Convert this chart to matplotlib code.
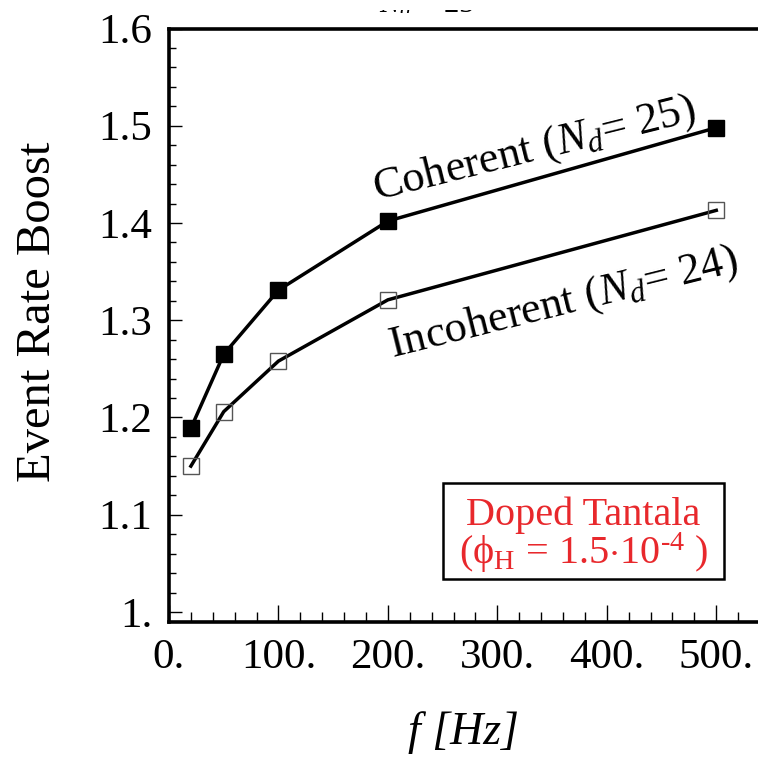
import matplotlib

matplotlib.use("Agg")
import matplotlib.pyplot as plt
from matplotlib.patches import Rectangle
from matplotlib.ticker import FixedFormatter, FixedLocator, MultipleLocator
from matplotlib.transforms import Bbox, TransformedBbox

freq_hz = [20, 50, 100, 200, 500]
boost_coherent = [1.189, 1.265, 1.331, 1.402, 1.498]
boost_incoherent = [1.150, 1.206, 1.258, 1.321, 1.413]

xtick_values = [0, 100, 200, 300, 400, 500]
xtick_labels = ["0.", "100.", "200.", "300.", "400.", "500."]
ytick_values = [1.0, 1.1, 1.2, 1.3, 1.4, 1.5, 1.6]
ytick_labels = ["1.", "1.1", "1.2", "1.3", "1.4", "1.5", "1.6"]

label_coherent = r"Coherent ($N_d$= 25)"
label_incoherent = r"Incoherent ($N_d$= 24)"
box_line1 = "Doped Tantala"
box_line2 = r"(ϕ$_\mathrm{H}$ = 1.5$\cdot$10$^{\text{-}4}$ )"

plt.rcParams["font.family"] = ["Liberation Serif", "DejaVu Serif"]
plt.rcParams["mathtext.fontset"] = "custom"
plt.rcParams["mathtext.rm"] = "Liberation Serif"
plt.rcParams["mathtext.it"] = "Liberation Serif:italic"

W, H = 758, 757
fig = plt.figure(figsize=(W / 100, H / 100), dpi=100)
ax = fig.add_axes([169 / W, 1 - 622 / H, 602 / W, (622 - 28.5) / H])

ax.plot(freq_hz, boost_coherent, color="black", lw=2.5, marker="s",
        ms=12, mfc="black", mec="black", zorder=3)
ax.plot(freq_hz, boost_incoherent, color="black", lw=2.5, marker="s",
        ms=12, mfc="none", mec="#555555", mew=1.0, zorder=3)

ax.set_xlim(0, 550)
ax.set_ylim(0.9897, 1.6)

ax.xaxis.set_major_locator(FixedLocator(xtick_values))
ax.xaxis.set_major_formatter(FixedFormatter(xtick_labels))
ax.xaxis.set_minor_locator(MultipleLocator(20))
ax.yaxis.set_major_locator(FixedLocator(ytick_values))
ax.yaxis.set_major_formatter(FixedFormatter(ytick_labels))
ax.yaxis.set_minor_locator(MultipleLocator(0.02))

ax.tick_params(axis="both", which="both", direction="in", color="black",
               labelsize=31, top=False, right=False)
ax.tick_params(axis="x", which="major", length=12, width=1.0, pad=12)
ax.tick_params(axis="x", which="minor", length=7, width=1.0)
ax.tick_params(axis="y", which="major", length=9, width=1.0, pad=12)
ax.tick_params(axis="y", which="minor", length=5, width=1.0)
for s in ax.spines.values():
    s.set_linewidth(2.6)

ax.text(534 / W, 1 - 150 / H, label_coherent, transform=fig.transFigure,
        fontsize=32, rotation=14, ha="center", va="center",
        rotation_mode="anchor")
ax.text(563 / W, 1 - 303 / H, label_incoherent, transform=fig.transFigure,
        fontsize=32, rotation=14, ha="center", va="center",
        rotation_mode="anchor")

fig.patches.append(Rectangle((443 / W, 1 - 579 / H), 281 / W, 96 / H,
                             transform=fig.transFigure, fill=False,
                             edgecolor="black", lw=1.8))
red = "#e8282c"
fig.text(583.5 / W, 1 - 515 / H, box_line1, color=red, fontsize=29,
         ha="center", va="center")
fig.text(583.5 / W, 1 - 553 / H, box_line2, color=red, fontsize=29,
         ha="center", va="center")

fig.text(38 / W, 1 - 312 / H, "Event Rate Boost", fontsize=35,
         rotation=90, ha="center", va="center")
fig.text(464 / W, 1 - 733 / H, "f [Hz]", fontsize=33, style="italic",
         ha="center", va="center")

# title of the original figure: only the bottom edge of it is visible
title = fig.text(427 / W, 1 - 12.5 / H, r"$N_d$ = 25", fontsize=22,
                 ha="center", va="baseline")
title.set_clip_box(TransformedBbox(Bbox([[0, 1 - 13 / H], [1, 1 - 9.5 / H]]),
                                   fig.transFigure))
title.set_clip_on(True)

fig.savefig("out.png", dpi=100)
